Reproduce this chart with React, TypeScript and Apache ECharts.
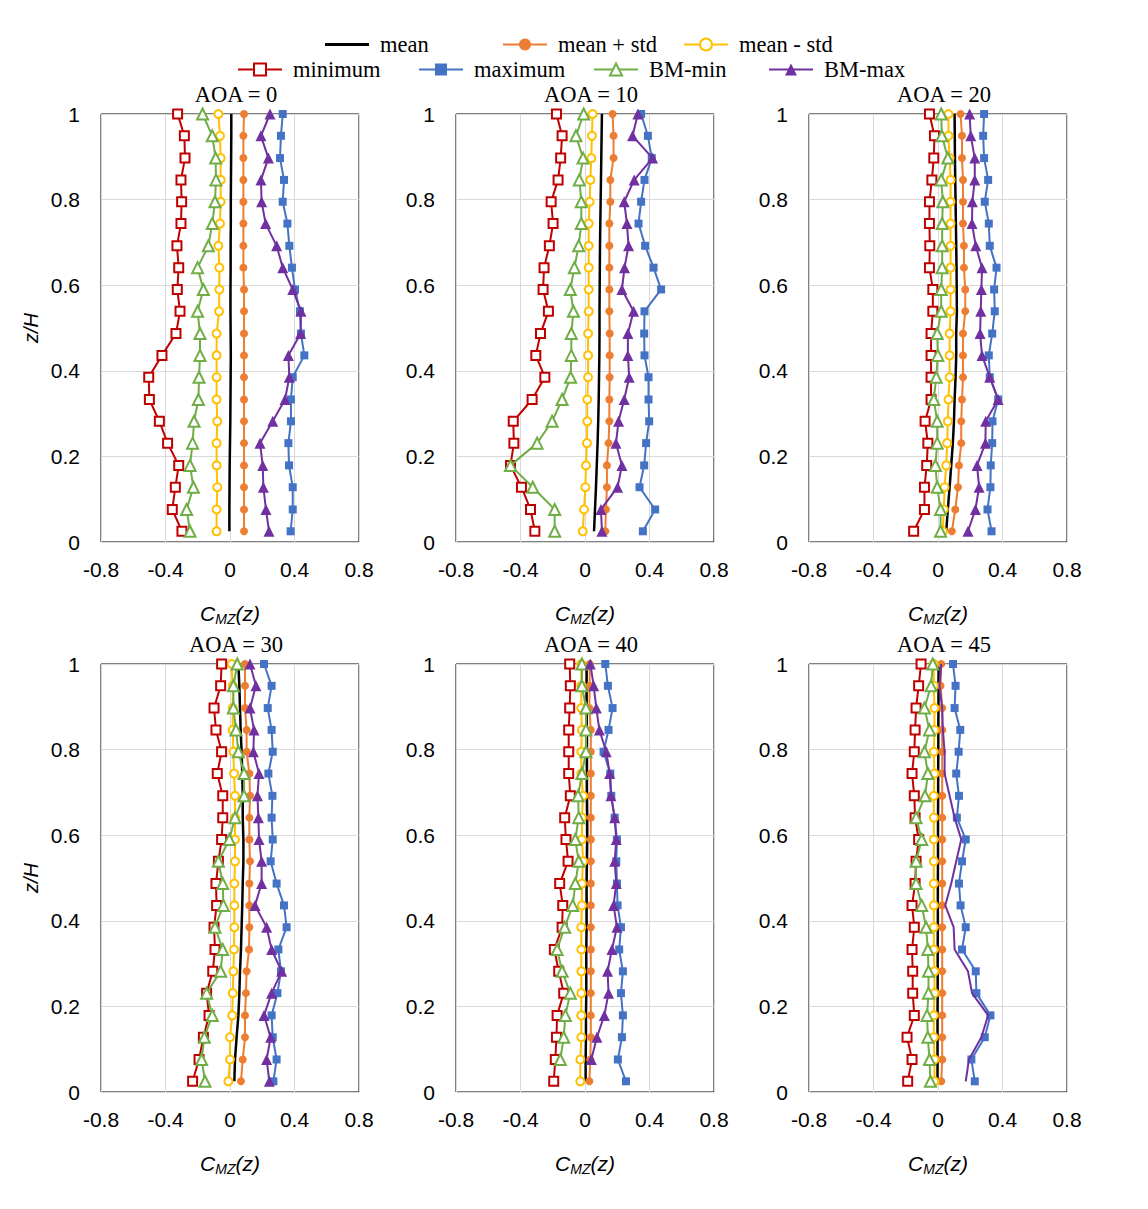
import React, { useEffect, useRef } from 'react';
import * as echarts from 'echarts';

// Heights z/H of the measurement taps (top to bottom)
const Z = [1.0, 0.949, 0.897, 0.846, 0.795, 0.744, 0.692, 0.641, 0.59, 0.539, 0.487, 0.436, 0.385, 0.333, 0.282, 0.231, 0.179, 0.128, 0.076, 0.025];

const TITLES = ['AOA = 0', 'AOA = 10', 'AOA = 20', 'AOA = 30', 'AOA = 40', 'AOA = 45'];
const X_TICKS = [-0.8, -0.4, 0, 0.4, 0.8];
const Y_TICKS = [0, 0.2, 0.4, 0.6, 0.8, 1];
const SERIES_NAMES = ['mean', 'mean + std', 'mean - std', 'minimum', 'maximum', 'BM-min', 'BM-max'];

// AOA = 0
const mean0 = [0.008, 0.008, 0.007, 0.006, 0.005, 0.005, 0.004, 0.004, 0.003, 0.003, 0.004, 0.005, 0.004, 0.003, 0.002, 0.0, -0.002, -0.003, -0.004, -0.004];
const meanP0 = [0.087, 0.083, 0.083, 0.083, 0.083, 0.083, 0.083, 0.083, 0.087, 0.087, 0.087, 0.087, 0.087, 0.087, 0.087, 0.087, 0.087, 0.087, 0.087, 0.087];
const meanM0 = [-0.072, -0.062, -0.058, -0.058, -0.058, -0.062, -0.072, -0.066, -0.066, -0.068, -0.083, -0.083, -0.083, -0.083, -0.079, -0.083, -0.083, -0.079, -0.083, -0.083];
const min0 = [-0.325, -0.283, -0.279, -0.304, -0.300, -0.304, -0.329, -0.318, -0.327, -0.310, -0.335, -0.422, -0.504, -0.500, -0.438, -0.387, -0.318, -0.339, -0.358, -0.298];
const max0 = [0.327, 0.316, 0.310, 0.335, 0.327, 0.356, 0.368, 0.384, 0.403, 0.434, 0.440, 0.461, 0.389, 0.378, 0.378, 0.362, 0.366, 0.389, 0.389, 0.376];
const bmMin0 = [-0.170, -0.110, -0.089, -0.087, -0.093, -0.110, -0.134, -0.201, -0.165, -0.201, -0.186, -0.186, -0.192, -0.196, -0.223, -0.232, -0.248, -0.227, -0.269, -0.248];
const bmMax0 = [0.248, 0.192, 0.238, 0.192, 0.196, 0.221, 0.289, 0.327, 0.389, 0.440, 0.438, 0.362, 0.368, 0.341, 0.265, 0.186, 0.203, 0.207, 0.223, 0.242];

// AOA = 10
const mean10 = [0.105, 0.103, 0.101, 0.099, 0.097, 0.095, 0.093, 0.092, 0.091, 0.090, 0.090, 0.089, 0.087, 0.085, 0.082, 0.078, 0.073, 0.068, 0.062, 0.056];
const meanP10 = [0.171, 0.177, 0.177, 0.157, 0.157, 0.151, 0.151, 0.151, 0.151, 0.151, 0.153, 0.153, 0.153, 0.151, 0.151, 0.146, 0.136, 0.136, 0.130, 0.126];
const meanM10 = [0.047, 0.043, 0.039, 0.033, 0.029, 0.023, 0.023, 0.023, 0.023, 0.023, 0.019, 0.019, 0.019, 0.014, 0.014, 0.012, 0.006, 0.002, -0.006, -0.014];
const min10 = [-0.177, -0.142, -0.151, -0.167, -0.210, -0.198, -0.221, -0.254, -0.260, -0.227, -0.276, -0.305, -0.249, -0.328, -0.445, -0.441, -0.462, -0.394, -0.338, -0.311];
const max10 = [0.348, 0.390, 0.414, 0.369, 0.348, 0.332, 0.373, 0.425, 0.472, 0.369, 0.367, 0.369, 0.394, 0.394, 0.398, 0.379, 0.367, 0.338, 0.435, 0.359];
const bmMin10 = [-0.008, -0.056, -0.012, -0.035, -0.023, -0.023, -0.039, -0.066, -0.091, -0.072, -0.085, -0.085, -0.089, -0.142, -0.204, -0.297, -0.462, -0.324, -0.188, -0.188];
const bmMax10 = [0.328, 0.295, 0.419, 0.305, 0.243, 0.260, 0.270, 0.245, 0.229, 0.301, 0.266, 0.266, 0.274, 0.243, 0.208, 0.192, 0.229, 0.202, 0.099, 0.105];

// AOA = 20
const mean20 = [0.103, 0.104, 0.105, 0.107, 0.109, 0.111, 0.113, 0.115, 0.116, 0.117, 0.113, 0.113, 0.109, 0.103, 0.099, 0.092, 0.082, 0.072, 0.061, 0.051];
const meanP20 = [0.140, 0.149, 0.149, 0.155, 0.155, 0.155, 0.161, 0.161, 0.169, 0.169, 0.155, 0.155, 0.155, 0.149, 0.144, 0.144, 0.130, 0.124, 0.107, 0.086];
const meanM20 = [0.065, 0.065, 0.072, 0.078, 0.078, 0.078, 0.078, 0.078, 0.078, 0.078, 0.072, 0.072, 0.072, 0.065, 0.061, 0.057, 0.051, 0.041, 0.036, 0.030];
const min20 = [-0.053, -0.022, -0.026, -0.038, -0.053, -0.053, -0.051, -0.053, -0.032, -0.032, -0.043, -0.043, -0.043, -0.043, -0.080, -0.063, -0.070, -0.084, -0.084, -0.151];
const max20 = [0.286, 0.280, 0.286, 0.311, 0.290, 0.315, 0.321, 0.363, 0.348, 0.352, 0.336, 0.315, 0.321, 0.373, 0.338, 0.336, 0.327, 0.325, 0.307, 0.332];
const bmMin20 = [0.020, 0.024, 0.061, 0.020, 0.030, 0.026, 0.026, 0.026, 0.020, 0.020, -0.005, -0.001, -0.011, -0.026, -0.005, -0.005, -0.016, -0.005, 0.016, 0.016];
const bmMax20 = [0.196, 0.203, 0.228, 0.228, 0.213, 0.211, 0.234, 0.273, 0.269, 0.265, 0.261, 0.273, 0.321, 0.373, 0.296, 0.294, 0.242, 0.255, 0.232, 0.186];

// AOA = 30
const mean30 = [0.052, 0.058, 0.062, 0.066, 0.072, 0.076, 0.079, 0.079, 0.083, 0.083, 0.079, 0.076, 0.072, 0.068, 0.062, 0.058, 0.052, 0.041, 0.031, 0.027];
const meanP30 = [0.093, 0.093, 0.093, 0.103, 0.103, 0.120, 0.124, 0.120, 0.120, 0.124, 0.120, 0.120, 0.120, 0.118, 0.103, 0.099, 0.093, 0.093, 0.079, 0.068];
const meanM30 = [0.010, 0.017, 0.017, 0.017, 0.021, 0.025, 0.031, 0.031, 0.031, 0.031, 0.027, 0.027, 0.027, 0.025, 0.021, 0.017, 0.014, 0.000, 0.000, -0.010];
const min30 = [-0.052, -0.058, -0.099, -0.087, -0.052, -0.079, -0.045, -0.045, -0.052, -0.072, -0.087, -0.083, -0.099, -0.093, -0.107, -0.145, -0.130, -0.165, -0.192, -0.232];
const max30 = [0.211, 0.258, 0.234, 0.258, 0.265, 0.238, 0.263, 0.258, 0.265, 0.252, 0.289, 0.335, 0.351, 0.300, 0.316, 0.294, 0.258, 0.265, 0.289, 0.269];
const bmMin30 = [0.045, 0.021, 0.021, 0.037, 0.052, 0.087, 0.087, 0.031, -0.004, -0.072, -0.045, -0.041, -0.093, -0.045, -0.058, -0.145, -0.110, -0.159, -0.176, -0.155];
const bmMax30 = [0.124, 0.161, 0.124, 0.149, 0.145, 0.180, 0.170, 0.176, 0.180, 0.196, 0.196, 0.155, 0.227, 0.258, 0.320, 0.258, 0.211, 0.252, 0.227, 0.244];

// AOA = 40
const mean40 = [0.010, 0.010, 0.010, 0.012, 0.012, 0.012, 0.012, 0.014, 0.014, 0.012, 0.010, 0.010, 0.010, 0.008, 0.008, 0.008, 0.006, 0.006, 0.004, 0.004];
const meanP40 = [0.029, 0.029, 0.027, 0.036, 0.036, 0.036, 0.036, 0.036, 0.036, 0.036, 0.036, 0.036, 0.036, 0.036, 0.036, 0.036, 0.036, 0.036, 0.033, 0.027];
const meanM40 = [-0.023, -0.023, -0.023, -0.019, -0.023, -0.023, -0.012, -0.019, -0.019, -0.012, -0.019, -0.019, -0.023, -0.023, -0.023, -0.023, -0.023, -0.023, -0.029, -0.029];
const min40 = [-0.095, -0.091, -0.095, -0.101, -0.101, -0.101, -0.091, -0.126, -0.118, -0.105, -0.157, -0.138, -0.142, -0.190, -0.163, -0.132, -0.173, -0.177, -0.184, -0.194];
const max40 = [0.126, 0.142, 0.171, 0.146, 0.115, 0.157, 0.163, 0.184, 0.198, 0.194, 0.198, 0.202, 0.223, 0.212, 0.235, 0.223, 0.235, 0.229, 0.204, 0.254];
const bmMin40 = [-0.019, -0.019, 0.006, 0.006, 0.006, -0.019, -0.043, -0.039, -0.060, -0.039, -0.060, -0.076, -0.126, -0.173, -0.142, -0.091, -0.122, -0.132, -0.153, null];
const bmMax40 = [0.033, 0.054, 0.070, 0.089, 0.132, 0.153, 0.161, 0.184, 0.194, 0.184, 0.194, 0.177, 0.198, 0.167, 0.140, 0.146, 0.120, 0.074, 0.039, null];

// AOA = 45
const mean45 = [0.004, 0.003, 0.003, 0.002, 0.002, 0.001, 0.001, 0.000, 0.000, 0.000, -0.001, -0.001, -0.001, -0.002, -0.002, -0.002, -0.003, -0.003, -0.003, -0.003];
const meanP45 = [0.020, 0.016, 0.026, 0.026, 0.026, 0.026, 0.026, 0.026, 0.026, 0.026, 0.026, 0.026, 0.026, 0.026, 0.026, 0.026, 0.026, 0.026, 0.026, 0.020];
const meanM45 = [-0.026, -0.026, -0.022, -0.022, -0.026, -0.022, -0.026, -0.026, -0.026, -0.026, -0.026, -0.026, -0.026, -0.026, -0.022, -0.022, -0.026, -0.026, -0.022, -0.022];
const min45 = [-0.105, -0.120, -0.136, -0.142, -0.147, -0.161, -0.147, -0.142, -0.120, -0.136, -0.142, -0.161, -0.147, -0.161, -0.157, -0.157, -0.147, -0.192, -0.161, -0.188];
const max45 = [0.093, 0.109, 0.103, 0.138, 0.128, 0.113, 0.130, 0.117, 0.172, 0.149, 0.130, 0.140, 0.172, 0.149, 0.234, 0.238, 0.325, 0.290, 0.207, 0.228];
const bmMin45 = [-0.032, -0.043, -0.084, -0.053, -0.084, -0.063, -0.080, -0.136, -0.101, -0.136, -0.136, -0.101, -0.074, -0.063, -0.059, -0.059, -0.068, -0.063, -0.053, -0.047];
const bmMax45 = [0.020, 0.009, 0.026, 0.030, 0.041, 0.041, 0.072, 0.103, 0.144, 0.113, 0.082, 0.045, 0.097, 0.103, 0.186, 0.211, 0.311, 0.269, 0.192, 0.172];

const PANEL_DATA = [
  [mean0, meanP0, meanM0, min0, max0, bmMin0, bmMax0],
  [mean10, meanP10, meanM10, min10, max10, bmMin10, bmMax10],
  [mean20, meanP20, meanM20, min20, max20, bmMin20, bmMax20],
  [mean30, meanP30, meanM30, min30, max30, bmMin30, bmMax30],
  [mean40, meanP40, meanM40, min40, max40, bmMin40, bmMax40],
  [mean45, meanP45, meanM45, min45, max45, bmMin45, bmMax45],
];

const STYLES = [
  { color: '#000000', symbol: 'none', size: 0, width: 2.5 },
  { color: '#ED7D31', symbol: 'circle', size: 8, width: 2 },
  { color: '#FFC000', symbol: 'emptyCircle', size: 8, width: 2 },
  { color: '#C00000', symbol: 'emptyRect', size: 9, width: 2 },
  { color: '#4472C4', symbol: 'rect', size: 8, width: 2 },
  { color: '#70AD47', symbol: 'emptyTriangle', size: 11, width: 2 },
  { color: '#7030A0', symbol: 'triangle', size: 11, width: 2 },
];

const GRID_LEFTS = [101, 456, 809];
const GRID_TOPS = [114, 664];
const GRID_W = 258;
const GRID_H = 428;

const LEGEND_POS = [
  { left: 325, top: 28 },
  { left: 502, top: 28 },
  { left: 683, top: 28 },
  { left: 237, top: 53 },
  { left: 418, top: 53 },
  { left: 593, top: 53 },
  { left: 768, top: 53 },
];

const SERIF = 'Liberation Serif, Times New Roman, serif';
const SANS = 'Liberation Sans, Arial, sans-serif';

export default function App() {
  const ref = useRef<HTMLDivElement>(null);
  useEffect(() => {
    document.body.style.margin = '0';
    const chart = echarts.init(ref.current!, undefined, { renderer: 'svg' });
    const grids: any[] = [];
    const xAxes: any[] = [];
    const yAxes: any[] = [];
    const titles: any[] = [];
    const series: any[] = [];
    for (let p = 0; p < 6; p++) {
      const col = p % 3;
      const row = Math.floor(p / 3);
      const left = GRID_LEFTS[col];
      const top = GRID_TOPS[row];
      grids.push({ left, top, width: GRID_W, height: GRID_H, show: true, borderColor: '#000', borderWidth: 1, backgroundColor: 'transparent' });
      xAxes.push({
        type: 'value', gridIndex: p, min: X_TICKS[0], max: X_TICKS[X_TICKS.length - 1], interval: 0.4,
        axisLine: { show: false }, axisTick: { show: false },
        splitLine: { show: true, lineStyle: { color: '#d9d9d9', width: 1 } },
        axisLabel: { fontFamily: SANS, fontSize: 21, color: '#000', margin: 17, formatter: (v: number) => String(Math.round(v * 10) / 10) },
        name: '{c|C}{s|MZ}{c|(z)}', nameLocation: 'middle', nameGap: 58,
        nameTextStyle: {
          rich: {
            c: { fontFamily: SANS, fontStyle: 'italic', fontSize: 21, color: '#000' },
            s: { fontFamily: SANS, fontStyle: 'italic', fontSize: 14, color: '#000', padding: [12, 0, 0, 0] },
          },
        },
      });
      yAxes.push({
        type: 'value', gridIndex: p, min: Y_TICKS[0], max: Y_TICKS[Y_TICKS.length - 1], interval: 0.2,
        axisLine: { show: false }, axisTick: { show: false },
        splitLine: { show: true, lineStyle: { color: '#d9d9d9', width: 1 } },
        axisLabel: { fontFamily: SANS, fontSize: 21, color: '#000', margin: 21, formatter: (v: number) => String(Math.round(v * 10) / 10) },
        name: col === 0 ? 'z/H' : '', nameLocation: 'middle', nameGap: 60, nameRotate: 90,
        nameTextStyle: { fontFamily: SANS, fontStyle: 'italic', fontSize: 20, color: '#000' },
      });
      titles.push({
        text: TITLES[p], left: left + GRID_W / 2 + 6, top: top - 31, textAlign: 'center', padding: 0,
        textStyle: { fontFamily: SERIF, fontSize: 22.5, fontWeight: 'normal', color: '#000' },
      });
      const data = PANEL_DATA[p];
      for (let s = 0; s < 7; s++) {
        const st = STYLES[s];
        const noMarker = p === 5 && s === 6;
        series.push({
          type: 'line', name: SERIES_NAMES[s], xAxisIndex: p, yAxisIndex: p,
          data: Z.map((z, i) => (data[s][i] === null ? null : [data[s][i], z])).filter((d) => d !== null),
          symbol: noMarker ? 'none' : st.symbol, symbolSize: st.size, showSymbol: !noMarker && st.symbol !== 'none',
          lineStyle: { color: st.color, width: st.width },
          itemStyle: { color: st.color, borderColor: st.color, borderWidth: st.symbol.startsWith('empty') ? 2 : 0 },
          emphasis: { disabled: true }, silent: true, z: 2 + s,
        });
      }
    }
    const legends = SERIES_NAMES.map((n, i) => {
      const isMean = i === 0;
      return {
        data: [isMean ? { name: n, icon: 'rect' } : n],
        left: LEGEND_POS[i].left, top: LEGEND_POS[i].top,
        itemWidth: 44, itemHeight: isMean ? 3 : 15,
        selectedMode: false, padding: [5, 5, 5, 0],
        textStyle: { fontFamily: SERIF, fontSize: 22.5, color: '#000', padding: [0, 0, 0, 6] },
      };
    });
    chart.setOption({
      animation: false,
      backgroundColor: '#fff',
      title: titles,
      legend: legends,
      grid: grids,
      xAxis: xAxes,
      yAxis: yAxes,
      series,
    });
    return () => chart.dispose();
  }, []);
  return <div ref={ref} style={{ width: 1148, height: 1209 }} />;
}
